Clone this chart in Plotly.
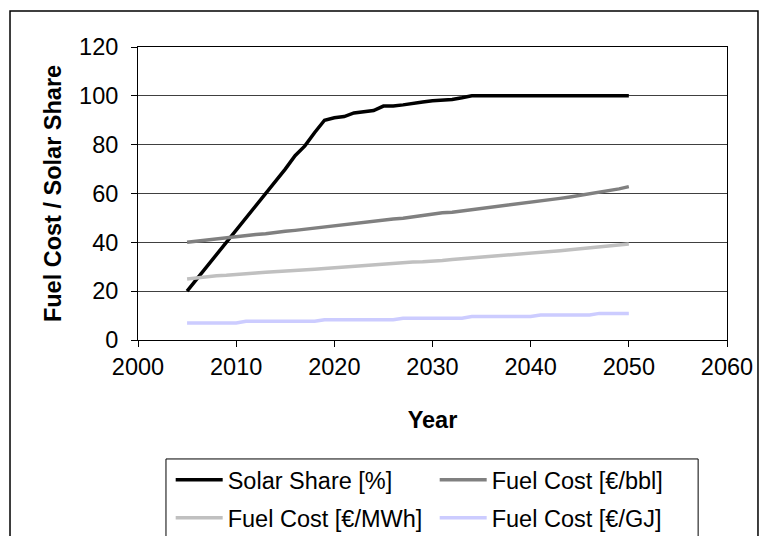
import plotly.graph_objects as go

years = list(range(2005, 2051))

solar_share = [20, 25, 29.5, 35, 40, 45, 50, 55, 60, 65, 70, 75.5, 79.5, 85, 90,
               91, 91.5, 93, 93.5, 94, 95.8, 95.8, 96.3, 97, 97.5, 98, 98.2, 98.5, 99.2, 100,
               100, 100, 100, 100, 100, 100, 100, 100, 100, 100, 100, 100, 100, 100, 100, 100]

fuel_bbl = [40, 40.5, 40.8, 41.3, 41.8, 42.2, 42.7, 43.2, 43.5, 44.1, 44.5, 44.9, 45.4, 45.9, 46.2,
            46.8, 47.3, 47.8, 48.1, 48.6, 49.1, 49.6, 49.9, 50.5, 51.0, 51.6, 52.1, 52.3, 52.8, 53.4,
            53.9, 54.5, 55.0, 55.2, 55.7, 56.3, 56.9, 57.5, 58.0, 58.6, 59.2, 59.8, 60.4, 61.0, 61.9, 62.8]

fuel_mwh = [25, 25.5, 26, 26.3, 26.5, 26.7, 27.1, 27.4, 27.7, 27.9, 28.2, 28.5, 28.7, 29.0, 29.3,
            29.6, 29.9, 30.3, 30.6, 30.9, 31.2, 31.5, 31.7, 31.9, 32.0, 32.2, 32.6, 33.0, 33.3, 33.6,
            34.0, 34.3, 34.6, 34.9, 35.2, 35.5, 35.9, 36.2, 36.6, 37.0, 37.4, 37.8, 38.2, 38.5, 38.9, 39.3]

fuel_gj = [7.0, 7.0, 7.0, 7.0, 7.0, 7.0, 7.65, 7.65, 7.65, 7.65, 7.65, 7.65, 7.65, 7.65, 8.3,
           8.3, 8.3, 8.3, 8.3, 8.3, 8.3, 8.3, 8.95, 8.95, 8.95, 8.95, 8.95, 8.95, 8.95, 9.6,
           9.6, 9.6, 9.6, 9.6, 9.6, 9.6, 10.25, 10.25, 10.25, 10.25, 10.25, 10.25, 10.9, 10.9, 10.9, 10.9]

series = [
    ("Solar Share [%]", solar_share, "#000000", "legend"),
    ("Fuel Cost [€/bbl]", fuel_bbl, "#808080", "legend"),
    ("Fuel Cost [€/MWh]", fuel_mwh, "#C0C0C0", "legend2"),
    ("Fuel Cost [€/GJ]", fuel_gj, "#CCCCFF", "legend2"),
]

FONT = "Liberation Sans, Arial, sans-serif"

fig = go.Figure()
for name, vals, color, lg in series:
    fig.add_trace(go.Scatter(x=years, y=vals, mode="lines", name=name, legend=lg,
                             line=dict(color=color, width=3.5)))

# legend box and outer chart border
fig.add_shape(type="rect", xref="paper", yref="paper",
              x0=0.0475, x1=0.951, y0=-0.72, y1=-0.406,
              line=dict(color="black", width=1), fillcolor="rgba(0,0,0,0)", layer="above")
fig.add_shape(type="rect", xref="paper", yref="paper",
              x0=-0.2173, x1=1.0526, y0=-0.75, y1=1.1229,
              line=dict(color="black", width=1.5), fillcolor="rgba(0,0,0,0)", layer="above")

legend_common = dict(orientation="h", xanchor="left", yanchor="middle",
                     entrywidth=202, entrywidthmode="pixels", itemwidth=47,
                     font=dict(size=23.5), bgcolor="rgba(0,0,0,0)", borderwidth=0)

fig.update_layout(
    width=767, height=536,
    margin=dict(l=138, r=40, t=47, b=196, autoexpand=False),
    paper_bgcolor="white", plot_bgcolor="white",
    font=dict(family=FONT, size=23.5, color="black"),
    showlegend=True,
    legend=dict(x=0.0555, y=-0.478, **legend_common),
    legend2=dict(x=0.0555, y=-0.607, **legend_common),
    xaxis=dict(range=[2000, 2060], dtick=10, tick0=2000, showgrid=False,
               showline=True, linecolor="black", linewidth=1, mirror=True,
               ticks="outside", ticklen=6, tickcolor="black", zeroline=False,
               title=dict(text="<b>Year</b>", font=dict(size=23.5), standoff=32)),
    yaxis=dict(range=[0, 120], dtick=20, showgrid=True, gridcolor="#404040", gridwidth=1,
               showline=True, linecolor="black", linewidth=1, mirror=True,
               ticks="outside", ticklen=6, tickcolor="black", zeroline=False,
               ticklabelstandoff=8,
               title=dict(text="<b>Fuel Cost / Solar Share</b>", font=dict(size=23.5), standoff=10)),
)

fig.write_html("out.html", config={"displayModeBar": False},
               post_script="document.body.style.margin='0';")
